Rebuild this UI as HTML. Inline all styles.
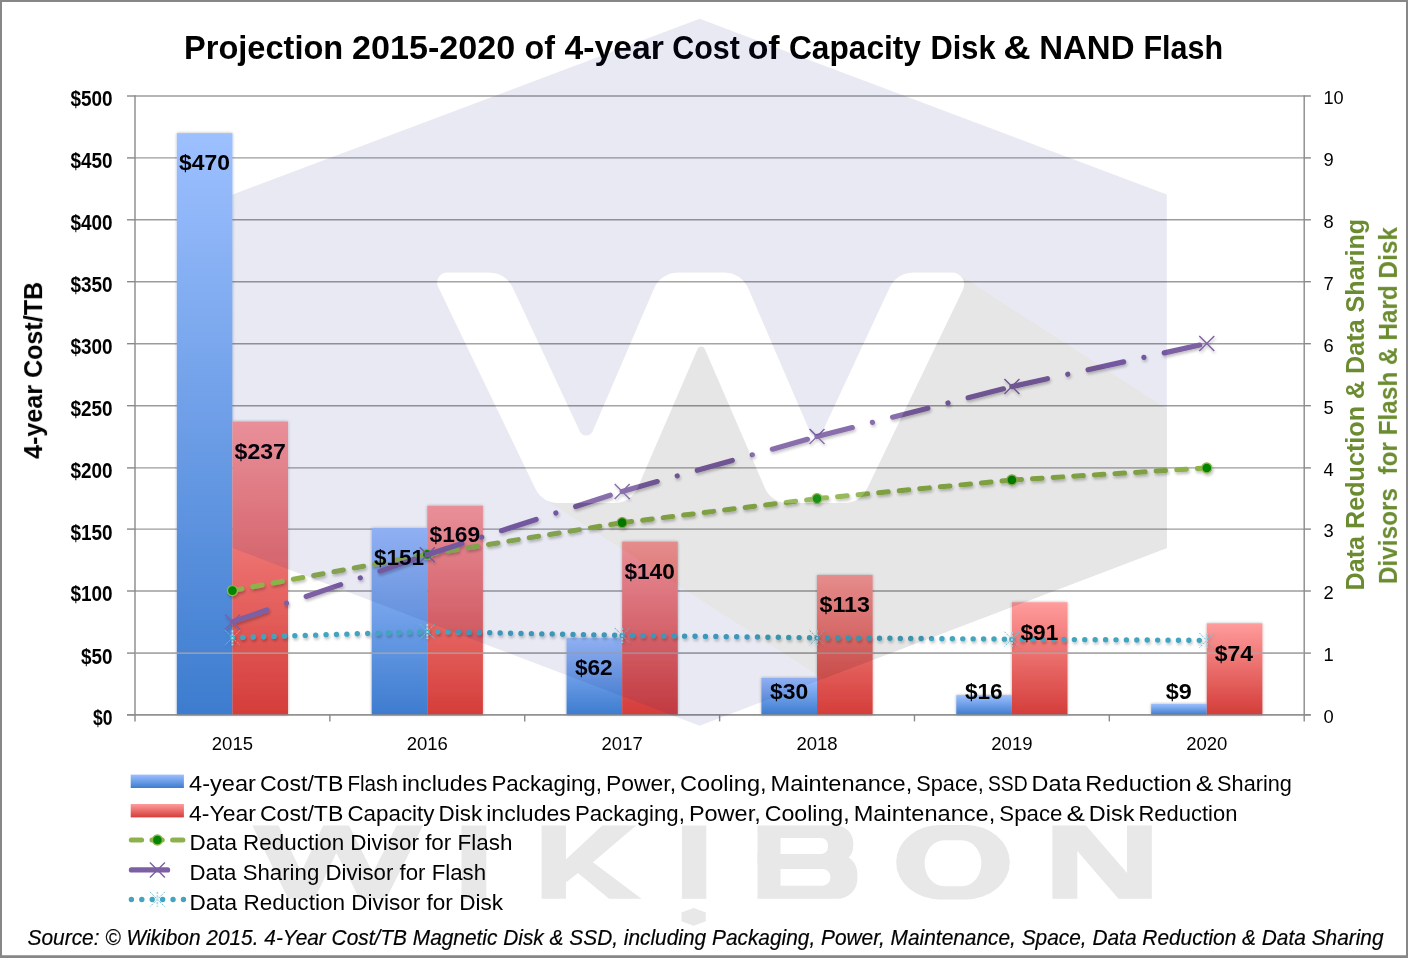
<!DOCTYPE html>
<html><head><meta charset="utf-8"><title>Projection 2015-2020 of 4-year Cost of Capacity Disk &amp; NAND Flash</title>
<style>html,body{margin:0;padding:0;background:#fff;}body{width:1408px;height:958px;overflow:hidden;}svg{display:block;font-family:"Liberation Sans",sans-serif;}</style>
</head><body>
<svg width="1408" height="958" viewBox="0 0 1408 958">
<defs>
<linearGradient id="gb" x1="0" y1="0" x2="0" y2="1"><stop offset="0" stop-color="#9dc0ff"/><stop offset="1" stop-color="#3d7ccf"/></linearGradient>
<linearGradient id="gr" x1="0" y1="0" x2="0" y2="1"><stop offset="0" stop-color="#ff9c9c"/><stop offset="1" stop-color="#d43d39"/></linearGradient>
<filter id="sh" x="-20%" y="-20%" width="140%" height="140%"><feGaussianBlur in="SourceAlpha" stdDeviation="1.6"/><feOffset dx="1.2" dy="1.5"/><feComponentTransfer><feFuncA type="linear" slope="0.26"/></feComponentTransfer><feMerge><feMergeNode/><feMergeNode in="SourceGraphic"/></feMerge></filter>
<filter id="shb" x="-20%" y="-5%" width="140%" height="110%"><feGaussianBlur in="SourceAlpha" stdDeviation="1.7"/><feOffset dx="0" dy="0.3"/><feComponentTransfer><feFuncA type="linear" slope="0.30"/></feComponentTransfer><feMerge><feMergeNode/><feMergeNode in="SourceGraphic"/></feMerge></filter>
<clipPath id="hexclip"><polygon points="699.7,18.8 1166.8,194.6 1166.8,548.0 699.7,725.7 232.6,548.0 232.6,194.6"/></clipPath>
</defs>
<rect x="0" y="0" width="1408" height="958" fill="#ffffff"/>
<g stroke="#9c9c9c" stroke-width="1.4" fill="none">
<line x1="135.0" y1="714.90" x2="1304.2" y2="714.90"/>
<line x1="135.0" y1="653.10" x2="1304.2" y2="653.10"/>
<line x1="135.0" y1="591.00" x2="1304.2" y2="591.00"/>
<line x1="135.0" y1="529.10" x2="1304.2" y2="529.10"/>
<line x1="135.0" y1="467.90" x2="1304.2" y2="467.90"/>
<line x1="135.0" y1="405.70" x2="1304.2" y2="405.70"/>
<line x1="135.0" y1="343.70" x2="1304.2" y2="343.70"/>
<line x1="135.0" y1="281.70" x2="1304.2" y2="281.70"/>
<line x1="135.0" y1="219.80" x2="1304.2" y2="219.80"/>
<line x1="135.0" y1="157.90" x2="1304.2" y2="157.90"/>
<line x1="135.0" y1="96.00" x2="1304.2" y2="96.00"/>
</g>
<g stroke="#898989" stroke-width="1.4" fill="none">
<line x1="127.0" y1="714.90" x2="135.0" y2="714.90"/>
<line x1="1304.2" y1="714.90" x2="1310.9" y2="714.90"/>
<line x1="127.0" y1="653.10" x2="135.0" y2="653.10"/>
<line x1="1304.2" y1="653.10" x2="1310.9" y2="653.10"/>
<line x1="127.0" y1="591.00" x2="135.0" y2="591.00"/>
<line x1="1304.2" y1="591.00" x2="1310.9" y2="591.00"/>
<line x1="127.0" y1="529.10" x2="135.0" y2="529.10"/>
<line x1="1304.2" y1="529.10" x2="1310.9" y2="529.10"/>
<line x1="127.0" y1="467.90" x2="135.0" y2="467.90"/>
<line x1="1304.2" y1="467.90" x2="1310.9" y2="467.90"/>
<line x1="127.0" y1="405.70" x2="135.0" y2="405.70"/>
<line x1="1304.2" y1="405.70" x2="1310.9" y2="405.70"/>
<line x1="127.0" y1="343.70" x2="135.0" y2="343.70"/>
<line x1="1304.2" y1="343.70" x2="1310.9" y2="343.70"/>
<line x1="127.0" y1="281.70" x2="135.0" y2="281.70"/>
<line x1="1304.2" y1="281.70" x2="1310.9" y2="281.70"/>
<line x1="127.0" y1="219.80" x2="135.0" y2="219.80"/>
<line x1="1304.2" y1="219.80" x2="1310.9" y2="219.80"/>
<line x1="127.0" y1="157.90" x2="135.0" y2="157.90"/>
<line x1="1304.2" y1="157.90" x2="1310.9" y2="157.90"/>
<line x1="127.0" y1="96.00" x2="135.0" y2="96.00"/>
<line x1="1304.2" y1="96.00" x2="1310.9" y2="96.00"/>
<line x1="135.00" y1="95.30" x2="135.00" y2="721.40"/>
<line x1="1304.20" y1="95.30" x2="1304.20" y2="721.40"/>
<line x1="329.87" y1="714.90" x2="329.87" y2="721.40"/>
<line x1="524.73" y1="714.90" x2="524.73" y2="721.40"/>
<line x1="719.60" y1="714.90" x2="719.60" y2="721.40"/>
<line x1="914.47" y1="714.90" x2="914.47" y2="721.40"/>
<line x1="1109.33" y1="714.90" x2="1109.33" y2="721.40"/>
</g>
<g filter="url(#shb)">
<rect x="176.83" y="133.13" width="55.60" height="581.77" fill="url(#gb)"/>
<rect x="232.43" y="421.54" width="55.60" height="293.36" fill="url(#gr)"/>
<rect x="371.70" y="527.99" width="55.60" height="186.91" fill="url(#gb)"/>
<rect x="427.30" y="505.71" width="55.60" height="209.19" fill="url(#gr)"/>
<rect x="566.57" y="638.16" width="55.60" height="76.74" fill="url(#gb)"/>
<rect x="622.17" y="541.61" width="55.60" height="173.29" fill="url(#gr)"/>
<rect x="761.43" y="677.77" width="55.60" height="37.13" fill="url(#gb)"/>
<rect x="817.03" y="575.03" width="55.60" height="139.87" fill="url(#gr)"/>
<rect x="956.30" y="695.10" width="55.60" height="19.80" fill="url(#gb)"/>
<rect x="1011.90" y="602.26" width="55.60" height="112.64" fill="url(#gr)"/>
<rect x="1151.17" y="703.76" width="55.60" height="11.14" fill="url(#gb)"/>
<rect x="1206.77" y="623.30" width="55.60" height="91.60" fill="url(#gr)"/>
</g>
<line x1="135.0" y1="653.10" x2="1304.2" y2="653.10" stroke="#a8a8a8" stroke-width="1.1"/>
<line x1="127.0" y1="714.90" x2="1310.7" y2="714.90" stroke="#898989" stroke-width="1.4"/>
<g fill="none" filter="url(#sh)">
<line x1="232.43" y1="590.60" x2="427.30" y2="554.40" stroke="#8db14c" stroke-width="5" stroke-linecap="round" stroke-dasharray="9.6 11.05"/>
<line x1="427.30" y1="554.40" x2="622.17" y2="522.70" stroke="#8db14c" stroke-width="5" stroke-linecap="round" stroke-dasharray="9.6 11.05"/>
<line x1="622.17" y1="522.70" x2="817.03" y2="498.60" stroke="#8db14c" stroke-width="5" stroke-linecap="round" stroke-dasharray="9.6 11.05"/>
<line x1="817.03" y1="498.60" x2="1011.90" y2="480.00" stroke="#8db14c" stroke-width="5" stroke-linecap="round" stroke-dasharray="9.6 11.05"/>
<line x1="1011.90" y1="480.00" x2="1206.77" y2="468.00" stroke="#8db14c" stroke-width="5" stroke-linecap="round" stroke-dasharray="9.6 11.05"/>
<circle cx="232.43" cy="590.60" r="5.0" fill="#048504" stroke="#8fb64a" stroke-width="1.3"/>
<circle cx="427.30" cy="554.40" r="5.0" fill="#048504" stroke="#8fb64a" stroke-width="1.3"/>
<circle cx="622.17" cy="522.70" r="5.0" fill="#048504" stroke="#8fb64a" stroke-width="1.3"/>
<circle cx="817.03" cy="498.60" r="5.0" fill="#048504" stroke="#8fb64a" stroke-width="1.3"/>
<circle cx="1011.90" cy="480.00" r="5.0" fill="#048504" stroke="#8fb64a" stroke-width="1.3"/>
<circle cx="1206.77" cy="468.00" r="5.0" fill="#048504" stroke="#8fb64a" stroke-width="1.3"/>
<line x1="232.43" y1="637.70" x2="427.30" y2="631.60" stroke="#42a4bf" stroke-width="5.4" stroke-linecap="round" stroke-dasharray="0.01 10.4"/>
<line x1="427.30" y1="631.60" x2="622.17" y2="635.40" stroke="#42a4bf" stroke-width="5.4" stroke-linecap="round" stroke-dasharray="0.01 10.4"/>
<line x1="622.17" y1="635.40" x2="817.03" y2="637.80" stroke="#42a4bf" stroke-width="5.4" stroke-linecap="round" stroke-dasharray="0.01 10.4"/>
<line x1="817.03" y1="637.80" x2="1011.90" y2="639.20" stroke="#42a4bf" stroke-width="5.4" stroke-linecap="round" stroke-dasharray="0.01 10.4"/>
<line x1="1011.90" y1="639.20" x2="1206.77" y2="640.40" stroke="#42a4bf" stroke-width="5.4" stroke-linecap="round" stroke-dasharray="0.01 10.4"/>
<path d="M224.93 630.20 l15 15 M239.93 630.20 l-15 15" stroke="#6fbdd2" stroke-width="1.0" stroke-dasharray="2.2 1.2" fill="none"/>
<path d="M232.43 630.20 v15" stroke="#a9d9e6" stroke-width="1.7" stroke-dasharray="2.2 1.2" fill="none"/>
<path d="M419.80 624.10 l15 15 M434.80 624.10 l-15 15" stroke="#6fbdd2" stroke-width="1.0" stroke-dasharray="2.2 1.2" fill="none"/>
<path d="M427.30 624.10 v15" stroke="#a9d9e6" stroke-width="1.7" stroke-dasharray="2.2 1.2" fill="none"/>
<path d="M614.67 627.90 l15 15 M629.67 627.90 l-15 15" stroke="#6fbdd2" stroke-width="1.0" stroke-dasharray="2.2 1.2" fill="none"/>
<path d="M622.17 627.90 v15" stroke="#a9d9e6" stroke-width="1.7" stroke-dasharray="2.2 1.2" fill="none"/>
<path d="M809.53 630.30 l15 15 M824.53 630.30 l-15 15" stroke="#6fbdd2" stroke-width="1.0" stroke-dasharray="2.2 1.2" fill="none"/>
<path d="M817.03 630.30 v15" stroke="#a9d9e6" stroke-width="1.7" stroke-dasharray="2.2 1.2" fill="none"/>
<path d="M1004.40 631.70 l15 15 M1019.40 631.70 l-15 15" stroke="#6fbdd2" stroke-width="1.0" stroke-dasharray="2.2 1.2" fill="none"/>
<path d="M1011.90 631.70 v15" stroke="#a9d9e6" stroke-width="1.7" stroke-dasharray="2.2 1.2" fill="none"/>
<path d="M1199.27 632.90 l15 15 M1214.27 632.90 l-15 15" stroke="#6fbdd2" stroke-width="1.0" stroke-dasharray="2.2 1.2" fill="none"/>
<path d="M1206.77 632.90 v15" stroke="#a9d9e6" stroke-width="1.7" stroke-dasharray="2.2 1.2" fill="none"/>
<line x1="232.43" y1="621.90" x2="427.30" y2="554.80" stroke="#7d5fa3" stroke-width="5.2" stroke-linecap="round" stroke-dasharray="36.4 20.8 0.01 20.8"/>
<line x1="427.30" y1="554.80" x2="622.17" y2="491.40" stroke="#7d5fa3" stroke-width="5.2" stroke-linecap="round" stroke-dasharray="36.4 20.8 0.01 20.8"/>
<line x1="622.17" y1="491.40" x2="817.03" y2="436.60" stroke="#7d5fa3" stroke-width="5.2" stroke-linecap="round" stroke-dasharray="36.4 20.8 0.01 20.8"/>
<line x1="817.03" y1="436.60" x2="1011.90" y2="386.60" stroke="#7d5fa3" stroke-width="5.2" stroke-linecap="round" stroke-dasharray="36.4 20.8 0.01 20.8"/>
<line x1="1011.90" y1="386.60" x2="1206.77" y2="343.50" stroke="#7d5fa3" stroke-width="5.2" stroke-linecap="round" stroke-dasharray="36.4 20.8 0.01 20.8"/>
<path d="M224.93 614.40 l15 15 M239.93 614.40 l-15 15" stroke="#7d5fa3" stroke-width="1.4" fill="none"/>
<path d="M419.80 547.30 l15 15 M434.80 547.30 l-15 15" stroke="#7d5fa3" stroke-width="1.4" fill="none"/>
<path d="M614.67 483.90 l15 15 M629.67 483.90 l-15 15" stroke="#7d5fa3" stroke-width="1.4" fill="none"/>
<path d="M809.53 429.10 l15 15 M824.53 429.10 l-15 15" stroke="#7d5fa3" stroke-width="1.4" fill="none"/>
<path d="M1004.40 379.10 l15 15 M1019.40 379.10 l-15 15" stroke="#7d5fa3" stroke-width="1.4" fill="none"/>
<path d="M1199.27 336.00 l15 15 M1214.27 336.00 l-15 15" stroke="#7d5fa3" stroke-width="1.4" fill="none"/>
</g>
<g opacity="0.999">
<text x="179.00" y="169.50" font-size="21.40" font-weight="bold" textLength="50.90" lengthAdjust="spacingAndGlyphs">$470</text>
<text x="234.60" y="458.60" font-size="21.40" font-weight="bold" textLength="51.30" lengthAdjust="spacingAndGlyphs">$237</text>
<text x="373.90" y="565.20" font-size="21.40" font-weight="bold" textLength="50.00" lengthAdjust="spacingAndGlyphs">$151</text>
<text x="429.50" y="542.10" font-size="21.40" font-weight="bold" textLength="50.70" lengthAdjust="spacingAndGlyphs">$169</text>
<text x="574.90" y="675.20" font-size="21.40" font-weight="bold" textLength="37.80" lengthAdjust="spacingAndGlyphs">$62</text>
<text x="624.40" y="578.60" font-size="21.40" font-weight="bold" textLength="50.40" lengthAdjust="spacingAndGlyphs">$140</text>
<text x="770.00" y="698.90" font-size="21.40" font-weight="bold" textLength="38.30" lengthAdjust="spacingAndGlyphs">$30</text>
<text x="819.50" y="611.70" font-size="21.40" font-weight="bold" textLength="50.40" lengthAdjust="spacingAndGlyphs">$113</text>
<text x="964.90" y="698.80" font-size="21.40" font-weight="bold" textLength="37.80" lengthAdjust="spacingAndGlyphs">$16</text>
<text x="1020.40" y="639.90" font-size="21.40" font-weight="bold" textLength="37.90" lengthAdjust="spacingAndGlyphs">$91</text>
<text x="1165.80" y="698.80" font-size="21.40" font-weight="bold" textLength="26.00" lengthAdjust="spacingAndGlyphs">$9</text>
<text x="1214.80" y="660.90" font-size="21.40" font-weight="bold" textLength="38.30" lengthAdjust="spacingAndGlyphs">$74</text>
<text x="93.10" y="725.30" font-size="21.50" font-weight="bold" textLength="19.50" lengthAdjust="spacingAndGlyphs">$0</text>
<text x="81.10" y="663.50" font-size="21.50" font-weight="bold" textLength="31.50" lengthAdjust="spacingAndGlyphs">$50</text>
<text x="70.40" y="601.40" font-size="21.50" font-weight="bold" textLength="42.20" lengthAdjust="spacingAndGlyphs">$100</text>
<text x="70.40" y="539.50" font-size="21.50" font-weight="bold" textLength="42.20" lengthAdjust="spacingAndGlyphs">$150</text>
<text x="70.40" y="478.30" font-size="21.50" font-weight="bold" textLength="42.20" lengthAdjust="spacingAndGlyphs">$200</text>
<text x="70.40" y="416.10" font-size="21.50" font-weight="bold" textLength="42.20" lengthAdjust="spacingAndGlyphs">$250</text>
<text x="70.40" y="354.10" font-size="21.50" font-weight="bold" textLength="42.20" lengthAdjust="spacingAndGlyphs">$300</text>
<text x="70.40" y="292.10" font-size="21.50" font-weight="bold" textLength="42.20" lengthAdjust="spacingAndGlyphs">$350</text>
<text x="70.40" y="230.20" font-size="21.50" font-weight="bold" textLength="42.20" lengthAdjust="spacingAndGlyphs">$400</text>
<text x="70.40" y="168.30" font-size="21.50" font-weight="bold" textLength="42.20" lengthAdjust="spacingAndGlyphs">$450</text>
<text x="70.40" y="106.40" font-size="21.50" font-weight="bold" textLength="42.20" lengthAdjust="spacingAndGlyphs">$500</text>
<text x="1323.50" y="722.80" font-size="18.20" textLength="10.20" lengthAdjust="spacingAndGlyphs">0</text>
<text x="1323.50" y="661.00" font-size="18.20" textLength="10.20" lengthAdjust="spacingAndGlyphs">1</text>
<text x="1323.50" y="598.90" font-size="18.20" textLength="10.20" lengthAdjust="spacingAndGlyphs">2</text>
<text x="1323.50" y="537.00" font-size="18.20" textLength="10.20" lengthAdjust="spacingAndGlyphs">3</text>
<text x="1323.50" y="475.80" font-size="18.20" textLength="10.20" lengthAdjust="spacingAndGlyphs">4</text>
<text x="1323.50" y="413.60" font-size="18.20" textLength="10.20" lengthAdjust="spacingAndGlyphs">5</text>
<text x="1323.50" y="351.60" font-size="18.20" textLength="10.20" lengthAdjust="spacingAndGlyphs">6</text>
<text x="1323.50" y="289.60" font-size="18.20" textLength="10.20" lengthAdjust="spacingAndGlyphs">7</text>
<text x="1323.50" y="227.70" font-size="18.20" textLength="10.20" lengthAdjust="spacingAndGlyphs">8</text>
<text x="1323.50" y="165.80" font-size="18.20" textLength="10.20" lengthAdjust="spacingAndGlyphs">9</text>
<text x="1323.50" y="103.90" font-size="18.20" textLength="20.20" lengthAdjust="spacingAndGlyphs">10</text>
<text x="211.83" y="749.90" font-size="18.10" textLength="41.20" lengthAdjust="spacingAndGlyphs">2015</text>
<text x="406.70" y="749.90" font-size="18.10" textLength="41.20" lengthAdjust="spacingAndGlyphs">2016</text>
<text x="601.57" y="749.90" font-size="18.10" textLength="41.20" lengthAdjust="spacingAndGlyphs">2017</text>
<text x="796.43" y="749.90" font-size="18.10" textLength="41.20" lengthAdjust="spacingAndGlyphs">2018</text>
<text x="991.30" y="749.90" font-size="18.10" textLength="41.20" lengthAdjust="spacingAndGlyphs">2019</text>
<text x="1186.17" y="749.90" font-size="18.10" textLength="41.20" lengthAdjust="spacingAndGlyphs">2020</text>
<text x="184.03" y="58.80" font-size="33.40" font-weight="bold" textLength="159.26" lengthAdjust="spacingAndGlyphs">Projection</text>
<text x="352.11" y="58.80" font-size="33.40" font-weight="bold" textLength="163.02" lengthAdjust="spacingAndGlyphs">2015-2020</text>
<text x="524.60" y="58.80" font-size="33.40" font-weight="bold" textLength="30.41" lengthAdjust="spacingAndGlyphs">of</text>
<text x="564.46" y="58.80" font-size="33.40" font-weight="bold" textLength="99.30" lengthAdjust="spacingAndGlyphs">4-year</text>
<text x="672.25" y="58.80" font-size="33.40" font-weight="bold" textLength="67.59" lengthAdjust="spacingAndGlyphs">Cost</text>
<text x="747.70" y="58.80" font-size="33.40" font-weight="bold" textLength="31.98" lengthAdjust="spacingAndGlyphs">of</text>
<text x="788.93" y="58.80" font-size="33.40" font-weight="bold" textLength="132.04" lengthAdjust="spacingAndGlyphs">Capacity</text>
<text x="930.59" y="58.80" font-size="33.40" font-weight="bold" textLength="65.05" lengthAdjust="spacingAndGlyphs">Disk</text>
<text x="1003.25" y="58.80" font-size="33.40" font-weight="bold" textLength="27.38" lengthAdjust="spacingAndGlyphs">&amp;</text>
<text x="1039.18" y="58.80" font-size="33.40" font-weight="bold" textLength="95.38" lengthAdjust="spacingAndGlyphs">NAND</text>
<text x="1143.44" y="58.80" font-size="33.40" font-weight="bold" textLength="79.60" lengthAdjust="spacingAndGlyphs">Flash</text>
<g transform="translate(42.1,458.9) rotate(-90)">
<text x="0.00" y="0.00" font-size="26.70" font-weight="bold" textLength="177.10" lengthAdjust="spacingAndGlyphs">4-year Cost/TB</text>
</g>
<g transform="translate(1363.5,590.4) rotate(-90)">
<text x="0.00" y="0.00" font-size="26.70" font-weight="bold" fill="#6a8b2f" textLength="371.60" lengthAdjust="spacingAndGlyphs">Data Reduction &amp; Data Sharing</text>
</g>
<g transform="translate(1396.9,584.1) rotate(-90)">
<text x="0.00" y="0.00" font-size="26.70" font-weight="bold" fill="#6a8b2f" textLength="357.00" lengthAdjust="spacingAndGlyphs" xml:space="preserve">Divisors  for Flash &amp; Hard Disk</text>
</g>
<rect x="130.7" y="774.6" width="53.2" height="13.4" fill="url(#gb)"/>
<rect x="130.7" y="804.0" width="53.2" height="13.4" fill="url(#gr)"/>
<text x="189.10" y="791.00" font-size="21.60" textLength="66.80" lengthAdjust="spacingAndGlyphs">4-year</text>
<text x="259.90" y="791.00" font-size="21.60" textLength="83.50" lengthAdjust="spacingAndGlyphs">Cost/TB</text>
<text x="347.40" y="791.00" font-size="21.60" textLength="50.50" lengthAdjust="spacingAndGlyphs">Flash</text>
<text x="401.90" y="791.00" font-size="21.60" textLength="85.50" lengthAdjust="spacingAndGlyphs">includes</text>
<text x="491.40" y="791.00" font-size="21.60" textLength="110.60" lengthAdjust="spacingAndGlyphs">Packaging,</text>
<text x="606.00" y="791.00" font-size="21.60" textLength="70.10" lengthAdjust="spacingAndGlyphs">Power,</text>
<text x="680.10" y="791.00" font-size="21.60" textLength="86.50" lengthAdjust="spacingAndGlyphs">Cooling,</text>
<text x="770.60" y="791.00" font-size="21.60" textLength="141.70" lengthAdjust="spacingAndGlyphs">Maintenance,</text>
<text x="916.30" y="791.00" font-size="21.60" textLength="67.60" lengthAdjust="spacingAndGlyphs">Space,</text>
<text x="987.90" y="791.00" font-size="21.60" textLength="39.70" lengthAdjust="spacingAndGlyphs">SSD</text>
<text x="1031.60" y="791.00" font-size="21.60" textLength="49.70" lengthAdjust="spacingAndGlyphs">Data</text>
<text x="1085.30" y="791.00" font-size="21.60" textLength="106.40" lengthAdjust="spacingAndGlyphs">Reduction</text>
<text x="1195.70" y="791.00" font-size="21.60" textLength="17.40" lengthAdjust="spacingAndGlyphs">&amp;</text>
<text x="1217.10" y="791.00" font-size="21.60" textLength="74.80" lengthAdjust="spacingAndGlyphs">Sharing</text>
<text x="189.10" y="820.70" font-size="21.60" textLength="66.80" lengthAdjust="spacingAndGlyphs">4-Year</text>
<text x="259.90" y="820.70" font-size="21.60" textLength="83.50" lengthAdjust="spacingAndGlyphs">Cost/TB</text>
<text x="347.40" y="820.70" font-size="21.60" textLength="87.10" lengthAdjust="spacingAndGlyphs">Capacity</text>
<text x="438.50" y="820.70" font-size="21.60" textLength="43.70" lengthAdjust="spacingAndGlyphs">Disk</text>
<text x="486.20" y="820.70" font-size="21.60" textLength="84.70" lengthAdjust="spacingAndGlyphs">includes</text>
<text x="574.90" y="820.70" font-size="21.60" textLength="110.00" lengthAdjust="spacingAndGlyphs">Packaging,</text>
<text x="688.90" y="820.70" font-size="21.60" textLength="71.80" lengthAdjust="spacingAndGlyphs">Power,</text>
<text x="764.70" y="820.70" font-size="21.60" textLength="85.00" lengthAdjust="spacingAndGlyphs">Cooling,</text>
<text x="853.70" y="820.70" font-size="21.60" textLength="141.60" lengthAdjust="spacingAndGlyphs">Maintenance,</text>
<text x="999.30" y="820.70" font-size="21.60" textLength="63.10" lengthAdjust="spacingAndGlyphs">Space</text>
<text x="1066.40" y="820.70" font-size="21.60" textLength="18.40" lengthAdjust="spacingAndGlyphs">&amp;</text>
<text x="1088.80" y="820.70" font-size="21.60" textLength="45.70" lengthAdjust="spacingAndGlyphs">Disk</text>
<text x="1138.50" y="820.70" font-size="21.60" textLength="98.90" lengthAdjust="spacingAndGlyphs">Reduction</text>
<text x="189.50" y="850.40" font-size="21.60" textLength="322.90" lengthAdjust="spacingAndGlyphs">Data Reduction Divisor for Flash</text>
<text x="189.50" y="880.00" font-size="21.60" textLength="296.50" lengthAdjust="spacingAndGlyphs">Data Sharing Divisor for Flash</text>
<text x="189.50" y="909.50" font-size="21.60" textLength="313.50" lengthAdjust="spacingAndGlyphs">Data Reduction Divisor for Disk</text>
<g fill="none">
<path d="M131.3 840.1 H183.0" stroke="#8db14c" stroke-width="5" stroke-linecap="round" stroke-dasharray="10.3 10.35"/>
<circle cx="157.40" cy="840.00" r="5.0" fill="#048504" stroke="#8fb64a" stroke-width="1.3"/>
<path d="M131.4 869.9 H167.6" stroke="#7d5fa3" stroke-width="5.2" stroke-linecap="round"/>
<path d="M149.90 862.40 l15 15 M164.90 862.40 l-15 15" stroke="#7d5fa3" stroke-width="1.4" fill="none"/>
<path d="M131.4 899.5 H184" stroke="#42a4bf" stroke-width="5.4" stroke-linecap="round" stroke-dasharray="0.01 10.4"/>
<path d="M149.90 891.80 l15 15 M164.90 891.80 l-15 15" stroke="#6fbdd2" stroke-width="1.0" stroke-dasharray="2.2 1.2" fill="none"/>
<path d="M157.40 891.80 v15" stroke="#a9d9e6" stroke-width="1.7" stroke-dasharray="2.2 1.2" fill="none"/>
</g>
<text x="27.60" y="944.90" font-size="22.00" font-style="italic" textLength="1356.00" lengthAdjust="spacingAndGlyphs" stroke="#000" stroke-width="0.2">Source: © Wikibon 2015. 4-Year Cost/TB Magnetic Disk &amp; SSD, including Packaging, Power, Maintenance, Space, Data Reduction &amp; Data Sharing</text>
</g>
<g opacity="0.1">
<polygon points="699.7,18.8 1166.8,194.6 1166.8,548.0 699.7,725.7 232.6,548.0 232.6,194.6" fill="#232387"/>
<path d="M1166.8 408.7 L958.6 274.4 L957.1 273.6 L955.5 273.0 L953.8 272.6 L952.1 272.5 L913.3 272.5 L911.2 272.6 L909.1 272.8 L907.0 273.3 L905.0 273.9 L903.0 274.6 L901.1 275.5 L899.3 276.6 L897.6 277.8 L895.9 279.1 L894.4 280.6 L893.0 282.2 L891.8 283.9 L890.7 285.6 L889.7 287.5 L815.9 445.7 L745.1 281.0 L738.7 276.8 L736.8 275.7 L734.9 274.7 L732.9 273.9 L730.8 273.3 L728.7 272.9 L726.5 272.6 L724.4 272.5 L678.0 272.5 L675.9 272.6 L673.7 272.9 L671.6 273.3 L669.5 273.9 L667.5 274.7 L665.6 275.7 L663.7 276.8 L662.0 278.1 L660.3 279.5 L658.8 281.0 L657.4 282.7 L656.2 284.4 L655.1 286.3 L654.1 288.2 L586.5 445.7 L509.5 280.7 L503.1 276.6 L501.3 275.5 L499.4 274.6 L497.4 273.9 L495.4 273.3 L493.3 272.8 L491.2 272.6 L489.1 272.5 L447.1 272.5 L445.7 272.6 L444.3 272.9 L442.9 273.4 L441.7 274.1 L440.5 275.0 L439.5 276.0 L438.6 277.2 L438.0 278.5 L437.5 279.8 L437.2 281.2 L437.1 282.7 L437.2 284.1 L437.6 285.5 L438.1 286.8 L535.4 488.8 L536.3 490.6 L537.4 492.3 L538.6 493.9 L539.9 495.4 L541.4 496.8 L543.0 498.0 L544.6 499.2 L823.1 678.8 L1166.8 548.0Z" fill="#050505" fill-rule="evenodd"/>
<path d="M438.10 286.84 A10.00 10.00 0 0 1 447.11 272.50 L489.14 272.50 A26.00 26.00 0 0 1 512.70 287.51 L579.89 431.54 A7.00 7.00 0 0 0 592.67 431.34 L654.14 288.24 A26.00 26.00 0 0 1 678.03 272.50 L724.37 272.50 A26.00 26.00 0 0 1 748.26 288.24 L809.73 431.34 A7.00 7.00 0 0 0 822.51 431.54 L889.70 287.51 A26.00 26.00 0 0 1 913.26 272.50 L952.10 272.50 A12.00 12.00 0 0 1 962.91 289.71 L867.02 488.85 A25.00 25.00 0 0 1 844.49 503.00 L787.84 503.00 A25.00 25.00 0 0 1 764.88 487.91 L704.87 348.91 A4.00 4.00 0 0 0 697.53 348.91 L637.52 487.91 A25.00 25.00 0 0 1 614.56 503.00 L557.91 503.00 A25.00 25.00 0 0 1 535.38 488.85 Z" fill="#ffffff"/>
<g fill="#141414">
<clipPath id="wclip"><rect x="240" y="825.6" width="190" height="73.2"/></clipPath>
<polyline clip-path="url(#wclip)" points="253,800 265.7,826 301.5,899 336,826 372.8,899 409.6,826 422.4,800" fill="none" stroke="#141414" stroke-width="23.6" stroke-linejoin="miter" stroke-miterlimit="10"/>
<rect x="461.5" y="825.6" width="24.8" height="73.2"/>
<polygon points="541.6,825.6 565.9,825.6 565.9,859.5 602.3,825.6 636.1,825.6 592.9,862.2 641.5,898.8 609.1,898.8 578,873 565.9,882.5 565.9,898.8 541.6,898.8"/>
<rect x="681.9" y="825.6" width="24.4" height="73.2"/>
<polygon points="693.6,908.1 705.7,912.5 705.7,921.3 693.6,925.7 681.5,921.3 681.5,912.5"/>
<path fill-rule="evenodd" d="M757.5 825.6 H836 A17.3 17.3 0 0 1 853.3 842.9 V846 A17 17 0 0 1 836.3 863 H757.5 Z M780.5 837.9 H821 A7 7 0 0 1 828 844.9 V847.1 A7 7 0 0 1 821 854.1 H780.5 Z"/>
<path fill-rule="evenodd" d="M757.5 854 H837.4 A20 20 0 0 1 857.4 874 V878.8 A20 20 0 0 1 837.4 898.8 H757.5 Z M780.5 869 H822.4 A8 8 0 0 1 830.4 877 V877.7 A8 8 0 0 1 822.4 885.7 H780.5 Z"/>
<path fill-rule="evenodd" d="M940 825 H966 A43.8 37.2 0 0 1 1009.8 862.2 A43.8 37.2 0 0 1 966 899.4 H940 A43.8 37.2 0 0 1 896.2 862.2 A43.8 37.2 0 0 1 940 825 Z M944 840.2 H962 A19.4 23 0 0 1 981.4 863.2 A19.4 23 0 0 1 962 886.3 H944 A19.4 23 0 0 1 924.6 863.2 A19.4 23 0 0 1 944 840.2 Z"/>
<polygon points="1052.4,825.6 1086,825.6 1127,873 1127,825.6 1151.8,825.6 1151.8,898.8 1118.5,898.8 1077.3,851 1077.3,898.8 1052.4,898.8"/>
</g>
</g>
<path d="M0 0 H1408 V958 H0 Z M2 1.9 V955.3 H1406 V1.9 Z" fill="#878787" fill-rule="evenodd"/>
</svg></body></html>
